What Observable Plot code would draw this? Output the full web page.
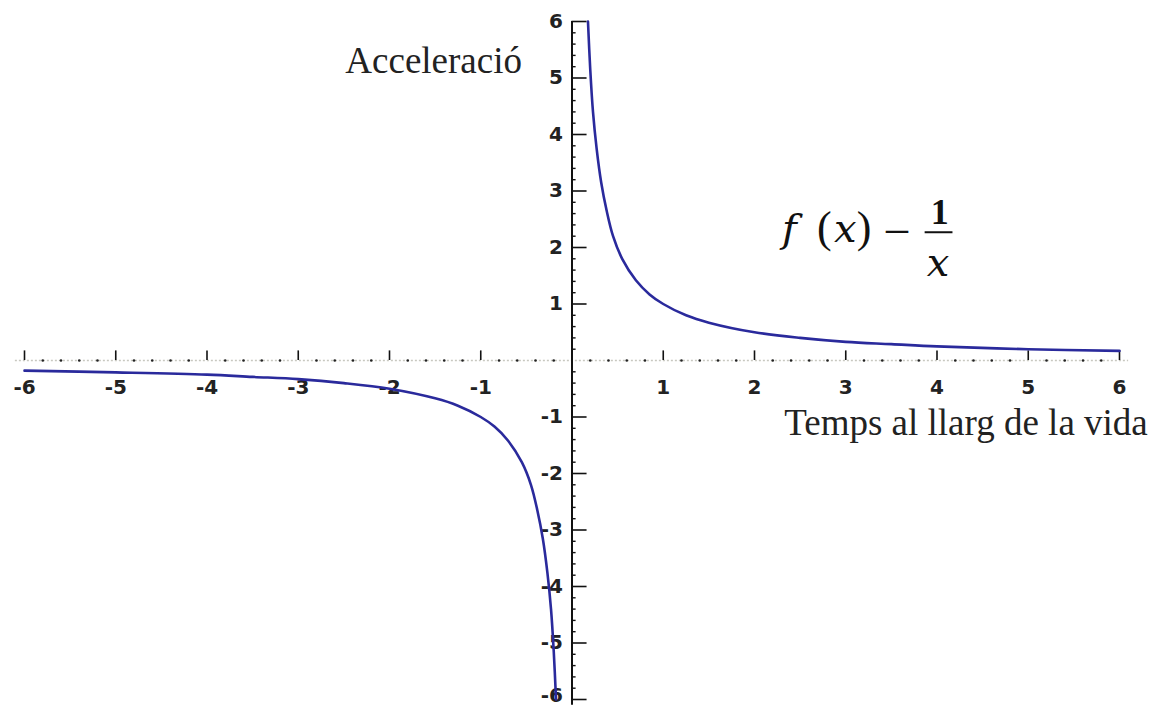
<!DOCTYPE html>
<html>
<head>
<meta charset="utf-8">
<script src="https://cdn.jsdelivr.net/npm/d3@7"></script>
<script src="https://cdn.jsdelivr.net/npm/@observablehq/plot@0.6"></script>
<style>
  html, body { margin: 0; padding: 0; background: #fff; }
  #chart { width: 1157px; height: 708px; }
</style>
</head>
<body>
<div id="chart"></div>
<script>
// Positive branch of the curve
const posX = [0.175, 0.2, 0.23, 0.27, 0.32, 0.38, 0.45, 0.55, 0.7, 0.85, 1, 1.25, 1.5, 2, 2.5, 3, 3.5, 4, 5, 6];
const posY = [6.0, 5.15, 4.4, 3.75, 3.15, 2.65, 2.2, 1.8, 1.42, 1.17, 1.0, 0.8, 0.67, 0.5, 0.4, 0.33, 0.29, 0.25, 0.2, 0.17];
// Negative branch of the curve
const negX = [-6, -5, -4, -3.5, -3, -2.5, -2, -1.5, -1.25, -1, -0.85, -0.7, -0.55, -0.45, -0.38, -0.32, -0.27, -0.23, -0.2, -0.175];
const negY = [-0.18, -0.21, -0.25, -0.29, -0.33, -0.4, -0.5, -0.67, -0.8, -1.0, -1.17, -1.42, -1.8, -2.2, -2.65, -3.15, -3.75, -4.4, -5.15, -6.0];

// Axis ticks
const xTickLabels = [-6, -5, -4, -3, -2, -1, 1, 2, 3, 4, 5, 6];
const yTickLabels = [-5, -4, -3, -2, -1, 1, 2, 3, 4, 5, 6];
const yBottomLabel = [-6];
const yMajorTicks = [-6, -5, -4, -3, -2, -1, 1, 2, 3, 4, 5, 6];
const xMajorTicks = [-6, -5, -4, -3, -2, -1, 1, 2, 3, 4, 5, 6];
const minorTicks = d3.range(-30, 31).map(i => i / 5).filter(v => Math.abs(v - Math.round(v)) > 1e-9);

const yAxisTitle = "Acceleració";
const xAxisTitle = "Temps al llarg de la vida";
const formulaItalic = [{t: "f", x: 2.30}, {t: "x", x: 2.87}];
const formulaUpright = [{t: "(", x: 2.685}, {t: ")", x: 3.12}, {t: "–", x: 3.44}];
const formulaNum = "1";
const formulaDen = "x";

const pos = posX.map((x, i) => ({x, y: posY[i]}));
const neg = negX.map((x, i) => ({x, y: negY[i]}));

const curveColor = "#2a2a9c";
const labelFont = "DejaVu Sans, sans-serif";
const serif = "'Liberation Serif', serif";
const italicSerif = "'DejaVu Serif', 'Liberation Serif', serif";

const chart = Plot.plot({
  width: 1157,
  height: 708,
  margin: 0,
  style: {background: "#fff", overflow: "visible"},
  x: {domain: [-6, 6], range: [24, 1119], axis: null},
  y: {domain: [-6, 6], range: [699, 21], axis: null},
  marks: [
    // x axis: dotted baseline
    Plot.ruleY([0], {x1: -6.1, x2: 6.1, stroke: "#c8c8c0", strokeWidth: 1.5, strokeDasharray: "2,2"}),
    Plot.dot(minorTicks, {x: d => d, y: 0, r: 1.3, fill: "#222", stroke: "none"}),
    Plot.ruleX(xMajorTicks, {x: d => d, y1: 0, y2: 0.17, stroke: "#111", strokeWidth: 1.6}),
    Plot.text(xTickLabels, {x: d => d, y: 0, text: d => String(d), dy: 33, lineAnchor: "bottom", fontSize: 20, fontFamily: labelFont, fill: "#222", fontWeight: "bold"}),
    // y axis
    Plot.ruleX([0], {y1: -6.1, y2: 6, stroke: "#111", strokeWidth: 2}),
    Plot.ruleY(yMajorTicks, {y: d => d, x1: 0, x2: 0.165, stroke: "#111", strokeWidth: 1.6}),
    Plot.ruleY(minorTicks, {y: d => d, x1: 0, x2: 0.045, stroke: "#111", strokeWidth: 1.4}),
    Plot.text(yTickLabels, {x: 0, y: d => d, text: d => String(d), dx: -9, textAnchor: "end", fontSize: 20, fontFamily: labelFont, fill: "#222", fontWeight: "bold"}),
    Plot.text(yBottomLabel, {x: 0, y: d => d, text: d => String(d), dx: -9, dy: -4, textAnchor: "end", fontSize: 20, fontFamily: labelFont, fill: "#222", fontWeight: "bold"}),
    // curve
    Plot.line(neg, {x: "x", y: "y", stroke: curveColor, strokeWidth: 2.6, curve: "catmull-rom"}),
    Plot.line(pos, {x: "x", y: "y", stroke: curveColor, strokeWidth: 2.6, curve: "catmull-rom"}),
    // titles
    Plot.text([yAxisTitle], {x: -0.548, y: 5.08, text: d => d, textAnchor: "end", lineAnchor: "bottom", fontSize: 37, fontFamily: serif, fill: "#222"}),
    Plot.text([xAxisTitle], {x: 6.31, y: -1.31, text: d => d, textAnchor: "end", lineAnchor: "bottom", fontSize: 37, fontFamily: serif, fill: "#222"}),
    // formula
    Plot.text(formulaItalic, {x: "x", y: 2.09, text: "t", textAnchor: "start", lineAnchor: "bottom", fontSize: 40, fontFamily: italicSerif, fontStyle: "italic", fill: "#111"}),
    Plot.text(formulaUpright, {x: "x", y: 2.09, text: "t", textAnchor: "start", lineAnchor: "bottom", fontSize: 44, fontFamily: serif, fill: "#111"}),
    Plot.text([formulaNum], {x: 4.03, y: 2.42, text: d => d, lineAnchor: "bottom", fontSize: 36, fontFamily: serif, fontWeight: "bold", fill: "#111"}),
    Plot.ruleY([2.27], {x1: 3.87, x2: 4.175, stroke: "#111", strokeWidth: 2}),
    Plot.text([formulaDen], {x: 4.01, y: 1.50, text: d => d, lineAnchor: "bottom", fontSize: 40, fontFamily: italicSerif, fontStyle: "italic", fill: "#111"})
  ]
});
document.getElementById("chart").appendChild(chart);
</script>
</body>
</html>
